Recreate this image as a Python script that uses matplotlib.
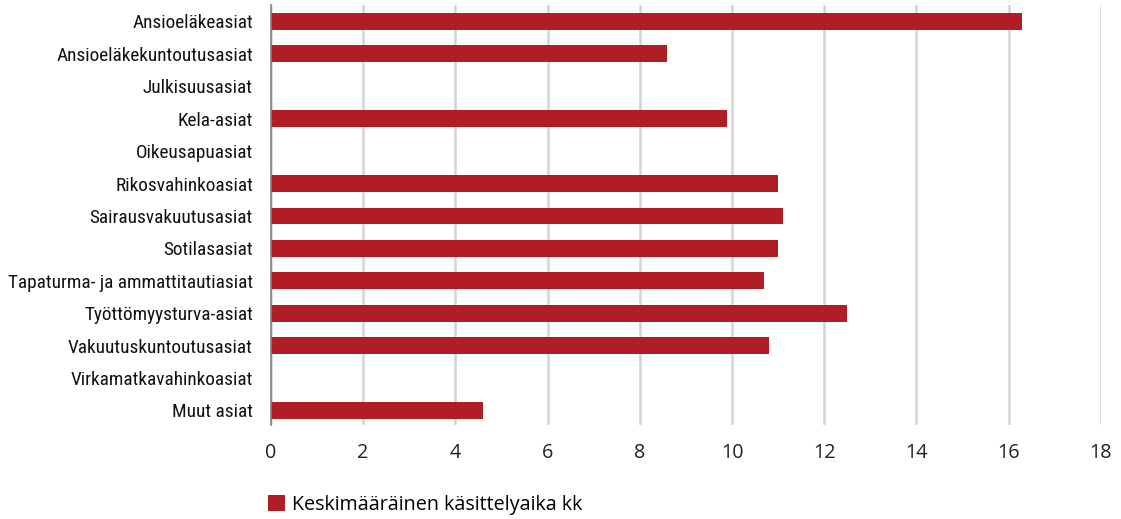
import matplotlib
matplotlib.use('Agg')
import matplotlib.pyplot as plt
import numpy as np

categories = ['Ansioeläkeasiat', 'Ansioeläkekuntoutusasiat', 'Julkisuusasiat', 'Kela-asiat',
              'Oikeusapuasiat', 'Rikosvahinkoasiat', 'Sairausvakuutusasiat', 'Sotilasasiat',
              'Tapaturma- ja ammattitautiasiat', 'Työttömyysturva-asiat', 'Vakuutuskuntoutusasiat',
              'Virkamatkavahinkoasiat', 'Muut asiat']
values = [16.3, 8.6, 0, 9.9, 0, 11.0, 11.1, 11.0, 10.7, 12.5, 10.8, 0, 4.6]
xticks = [0, 2, 4, 6, 8, 10, 12, 14, 16, 18]
series_name = 'Keskimääräinen käsittelyaika kk'

bar_color = '#b01e24'
label_font = ['Liberation Sans Narrow', 'Roboto Condensed', 'Liberation Sans', 'DejaVu Sans']
num_font = ['Open Sans', 'DejaVu Sans']

fig = plt.figure(figsize=(11.21, 5.19), dpi=100)
ax = fig.add_axes([0.2417, 0.181, 0.982 - 0.2417, 0.809])

y = np.arange(len(categories))
ax.barh(y, values, height=0.52, color=bar_color, zorder=3, label=series_name)

ax.set_xlim(0, 18)
ax.set_ylim(12.45, -0.5)
ax.set_xticks(xticks)
ax.set_xticklabels([str(t) for t in xticks], fontsize=14.2, family=num_font, color='#222222')
ax.set_yticks(y)

# fit the category labels to the width they take in the original (about 243 px)
renderer = fig.canvas.get_renderer()
probe = fig.text(0, 0, max(categories, key=len), fontsize=10, family=label_font)
w = probe.get_window_extent(renderer).width
probe.remove()
label_size = 10 * 243 / w

ax.set_yticklabels(categories, fontsize=label_size, family=label_font, color='#111111')
ax.tick_params(axis='both', length=0)
ax.tick_params(axis='x', pad=13)
ax.tick_params(axis='y', pad=13)

ax.grid(axis='x', color='#d4d4d4', linewidth=1.8, zorder=0)
for side in ['top', 'right', 'bottom']:
    ax.spines[side].set_visible(False)
ax.spines['left'].set_color('#808080')
ax.spines['left'].set_linewidth(1.2)
ax.spines['left'].set_zorder(4)

fig.legend(loc='center left', bbox_to_anchor=(268 / 1121, 1 - 505 / 519), frameon=False,
           prop={'family': num_font, 'size': 14.2}, handlelength=0.86, handleheight=0.86,
           handletextpad=0.35, borderpad=0, borderaxespad=0)

fig.savefig('out.png', dpi=100)
